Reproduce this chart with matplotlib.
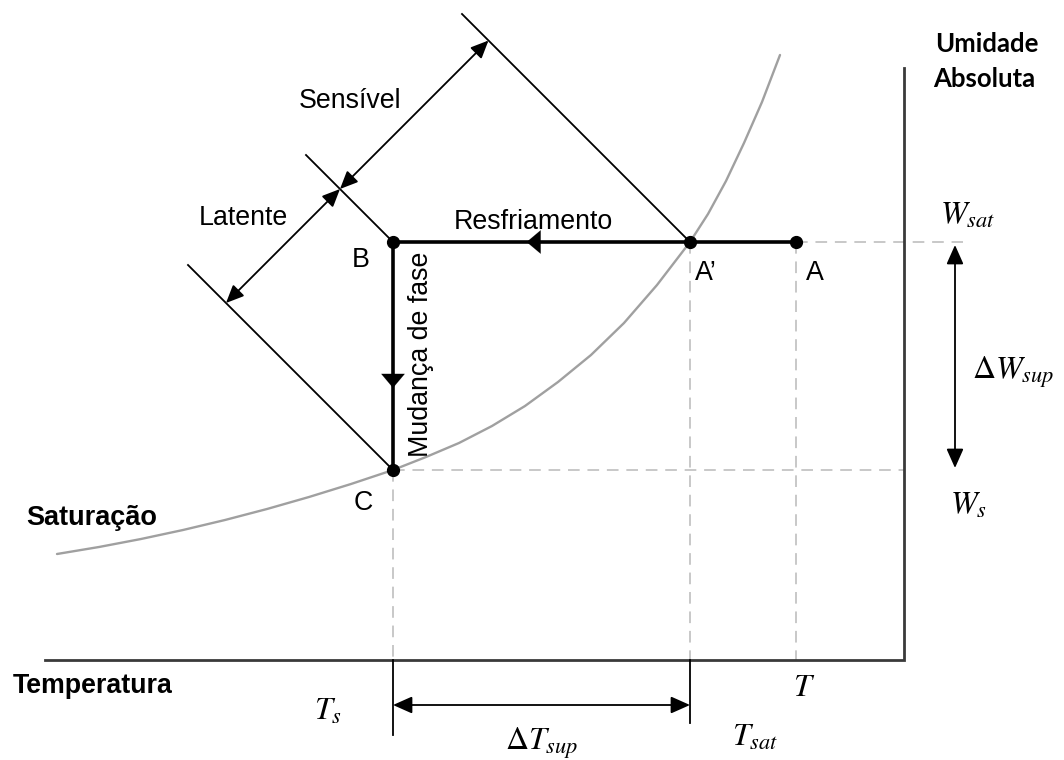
import matplotlib
matplotlib.use("Agg")
import matplotlib.pyplot as plt
from matplotlib.patches import FancyArrowPatch

# Schematic coordinates: horizontal = temperature, vertical = absolute humidity.
# The origin sits at the left end of the temperature axis.
axis_T_end = 859          # right end of the temperature axis (humidity axis position)
axis_W_top = 592          # top of the humidity axis

# Temperature levels: T_s, T_sat, T
temp_levels = [348, 645, 751]
# Humidity levels: W_s, W_sat
humid_levels = [190, 418]

# Process states
state_names = ["A", "A’", "B", "C"]
state_T = [751, 645, 348, 348]
state_W = [418, 418, 418, 190]

# Saturation curve
sat_T = [12, 54, 96, 138, 180, 222, 264, 306, 348, 381, 414, 447, 480, 513, 546,
         579, 612, 645, 663, 681, 699, 717, 735]
sat_W = [106, 113, 121, 130, 140, 151, 163, 176, 190, 203, 217, 234, 254, 278, 305,
         337, 375, 418, 446, 479, 517, 558, 605]

# Lengths of the 45-degree lines drawn up-left from A', B and C
diag_from = ["A’", "B", "C"]
diag_len = [228, 87, 205]
# Point on the line from B where the Latente / Sensível dimensions meet
dim_offset = 53

SANS = "Liberation Sans"
plt.rcParams["mathtext.fontset"] = "stix"

fig = plt.figure(figsize=(10.64, 7.60), dpi=100)
ax = fig.add_axes([0, 0, 1, 1])
ax.set_xlim(-45, 1019)
ax.set_ylim(-100, 660)
ax.axis("off")

T_s, T_sat, T_a = temp_levels
W_s, W_sat = humid_levels
pos = {n: (t, w) for n, t, w in zip(state_names, state_T, state_W)}

dash_kw = dict(color="#c8c8c8", lw=1.4, dashes=(6, 4), zorder=1)
# guide lines to the axes
ax.plot([pos["A"][0], 918], [W_sat, W_sat], **dash_kw)
ax.plot([T_s, axis_T_end], [W_s, W_s], **dash_kw)
for t, w in [(T_s, W_s), (T_sat, W_sat), (T_a, W_sat)]:
    ax.plot([t, t], [w, 0], **dash_kw)

# axes
ax.plot([0, axis_T_end, axis_T_end], [0, 0, axis_W_top], color="#3a3a3a", lw=2.0,
        solid_joinstyle="miter", zorder=2)

# saturation curve
ax.plot(sat_T, sat_W, color="#a0a0a0", lw=1.7, zorder=2,
        solid_joinstyle="round", solid_capstyle="round")

# 45-degree lines
for name, L in zip(diag_from, diag_len):
    x0, y0 = pos[name]
    ax.plot([x0, x0 - L], [y0, y0 + L], color="black", lw=1.3, zorder=3)

# Latente / Sensível dimension arrows
bx, by = pos["B"]
meet = (bx - dim_offset, by + dim_offset)
gap_lat = (W_sat - W_s) / 2.0
gap_sen = (T_sat - T_s) / 2.0
lat_start = (meet[0] - gap_lat, meet[1] - gap_lat)
sen_end = (meet[0] + gap_sen, meet[1] + gap_sen)


def dim_arrow(p0, p1, ms=24):
    ax.add_patch(FancyArrowPatch(p0, p1, arrowstyle="<|-|>,head_length=0.45,head_width=0.2",
                                 mutation_scale=ms, lw=1.3, color="black",
                                 shrinkA=0, shrinkB=0, zorder=4))


dim_arrow(lat_start, meet)
dim_arrow(meet, sen_end)

# process path A -> A' -> B -> C
ax.plot([pos["A"][0], pos["B"][0], pos["C"][0]], [pos["A"][1], pos["B"][1], pos["C"][1]],
        color="black", lw=2.6, solid_joinstyle="miter", zorder=5)


def mid_head(p0, p1, frac):
    tx = p0[0] + frac * (p1[0] - p0[0])
    ty = p0[1] + frac * (p1[1] - p0[1])
    dx, dy = p1[0] - p0[0], p1[1] - p0[1]
    n = (dx ** 2 + dy ** 2) ** 0.5
    ax.add_patch(FancyArrowPatch((tx - dx / n * 20, ty - dy / n * 20), (tx, ty),
                                 arrowstyle="-|>,head_length=0.5,head_width=0.42",
                                 mutation_scale=20, lw=0.1, color="black",
                                 shrinkA=0, shrinkB=0, zorder=6))


mid_head(pos["A’"], pos["B"], 0.55)
mid_head(pos["B"], pos["C"], 0.64)

ax.plot(state_T, state_W, "o", color="black", ms=8.5, zorder=7)

# ΔW_sup and ΔT_sup dimensions
dim_arrow((910, W_s + 2), (910, W_sat - 3), ms=26)
ax.plot([T_s, T_s], [0, -75], color="black", lw=1.3, zorder=3)
ax.plot([T_sat, T_sat], [0, -63], color="black", lw=1.3, zorder=3)
dim_arrow((T_s, -45), (T_sat, -45), ms=26)

# text
fs = 19.3
ax.text(305, 552, "Sensível", fontsize=fs, family=SANS, ha="center", va="baseline")
ax.text(198, 435, "Latente", fontsize=fs, family=SANS, ha="center", va="baseline")
ax.text(488, 431, "Resfriamento", fontsize=fs, family=SANS, ha="center", va="baseline")
ax.text(316, 393, "B", fontsize=fs, family=SANS, ha="center", va="baseline")
ax.text(650, 380, "A’", fontsize=fs, family=SANS, ha="left", va="baseline")
ax.text(761, 380, "A", fontsize=fs, family=SANS, ha="left", va="baseline")
ax.text(318, 150, "C", fontsize=fs, family=SANS, ha="center", va="baseline")
ax.text(376, 306, "Mudança de fase", fontsize=fs, family=SANS, rotation=90,
        ha="center", va="center")
ax.text(-19, 135, "Saturação", fontsize=19.5, family=SANS, weight="bold",
        ha="left", va="baseline")
ax.text(-32, -33, "Temperatura", fontsize=fs, family=SANS, weight="bold",
        ha="left", va="baseline")
ax.text(890, 608, "Umidade", fontsize=18.5, family="Lato", weight="bold",
        ha="left", va="baseline")
ax.text(888, 573, "Absoluta", fontsize=18.5, family="Lato", weight="bold",
        ha="left", va="baseline")

mfs = 23
ax.text(923, W_sat + 27, r"$W_{sat}$", fontsize=mfs, ha="center", va="center")
ax.text(968, (W_s + W_sat) / 2 - 16, r"$\Delta W_{sup}$", fontsize=mfs, ha="center", va="center")
ax.text(923, W_s - 35, r"$W_s$", fontsize=mfs, ha="center", va="center")
ax.text(T_a + 8, -28, r"$T$", fontsize=mfs, ha="center", va="center")
ax.text(T_s - 65, -51, r"$T_s$", fontsize=mfs, ha="center", va="center")
ax.text(T_sat + 65, -77, r"$T_{sat}$", fontsize=mfs, ha="center", va="center")
ax.text((T_s + T_sat) / 2, -83, r"$\Delta T_{sup}$", fontsize=mfs, ha="center", va="center")

fig.savefig("out.png", dpi=100)
